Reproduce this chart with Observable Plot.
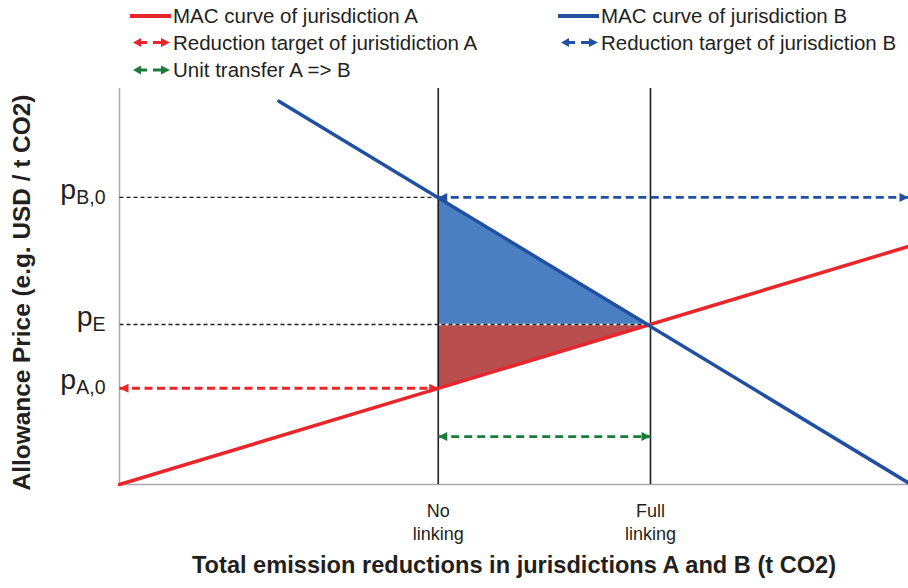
<!DOCTYPE html>
<html><head><meta charset="utf-8">
<script src="https://cdn.jsdelivr.net/npm/d3@7"></script>
<script src="https://cdn.jsdelivr.net/npm/@observablehq/plot@0.6"></script>
<style>
body{margin:0;background:#fff;}
#chart{width:908px;height:588px;position:relative;}
svg{display:block}
</style></head><body><div id="chart"></div>
<script>
// ---- data ----
const xDomain = [0, 100];
const yDomain = [0, 100];
const xTicks = [40.4, 67.3];
const xTickLabels = ["No\nlinking", "Full\nlinking"];
const yTicks = [24.3, 40.4, 72.5];
const yTickBase = ["p", "p", "p"];
const yTickSub = ["A,0", "E", "B,0"];
const macA = [[0, 0], [100, 60.1]];
const macB = [[20.2, 96.8], [100, 0.4]];
const blueSurplus = [[40.4, 40.4, 72.5], [67.3, 40.4, 40.4]];
const redSurplus = [[40.4, 24.3, 40.4], [67.3, 40.4, 40.4]];
const guideB0 = [[0, 72.5], [40.4, 72.5]];
const guideE = [[0, 40.4], [67.3, 40.4]];
const targetA = [[0, 24.3], [40.4, 24.3]];
const targetB = [[40.4, 72.5], [100, 72.5]];
const transfer = [[40.4, 12.1], [67.3, 12.1]];
const legendLabels = ["MAC curve of jurisdiction A", "MAC curve of jurisdiction B",
  "Reduction target of juristidiction A", "Reduction target of jurisdiction B",
  "Unit transfer A => B"];
const legendKinds = ["line", "line", "arrow", "arrow", "arrow"];
const xTitle = "Total emission reductions in jurisdictions A and B (t CO2)";
const yTitle = "Allowance Price (e.g. USD / t CO2)";

// ---- styles ----
const FONT = '"Liberation Sans", Arial, Helvetica, sans-serif';
const RED = "#e8262b", BLUE = "#2150a2", GREEN = "#1b7a3a";
const FILL_BLUE = "#4a80c1", FILL_RED = "#b84e4e";
const DARK = "#231f20", GRAY = "#a7a9ac";
const legendColors = [RED, BLUE, RED, BLUE, GREEN];

const chart = document.getElementById("chart");

// ---- legend ----
const leg = d3.create("svg").attr("width", 908).attr("height", 80)
  .style("font-family", FONT);
const colX = [130, 558], rowY = [16, 42.5, 70];
legendLabels.forEach((lab, i) => {
  const cx = colX[i % 2], cy = rowY[Math.floor(i / 2)], c = legendColors[i];
  const g = leg.append("g").attr("transform", `translate(${cx},${cy})`);
  if (legendKinds[i] === "line") {
    g.append("line").attr("x1", 0).attr("x2", 41).attr("stroke", c).attr("stroke-width", 4);
  } else {
    g.append("path").attr("d", "M3,0L11,-4.5L11,4.5Z").attr("fill", c);
    g.append("line").attr("x1", 10).attr("x2", 17).attr("stroke", c).attr("stroke-width", 3);
    g.append("line").attr("x1", 23).attr("x2", 32).attr("stroke", c).attr("stroke-width", 3);
    g.append("path").attr("d", "M40,0L31,-4.5L31,4.5Z").attr("fill", c);
  }
  g.append("text").attr("x", 43).attr("y", 7.4).attr("font-size", 20.5).attr("fill", DARK).text(lab);
});
chart.appendChild(leg.node());

// ---- arrow marker ----
function arrowHead(color) {
  const m = d3.create("svg:marker")
    .attr("viewBox", "-10 -6 12 12")
    .attr("markerWidth", 12).attr("markerHeight", 12)
    .attr("markerUnits", "userSpaceOnUse")
    .attr("refX", 0).attr("refY", 0)
    .attr("orient", "auto-start-reverse");
  m.append("path").attr("d", "M-9,-4.5L0,0L-9,4.5Z").attr("fill", color).attr("stroke", "none");
  return m.node();
}

const pt = {x: d => d[0], y: d => d[1]};
const plot = Plot.plot({
  width: 908, height: 508,
  marginTop: 8, marginBottom: 104, marginLeft: 119, marginRight: 0,
  style: {fontFamily: FONT, color: DARK, background: "white", overflow: "visible"},
  x: {domain: xDomain},
  y: {domain: yDomain},
  marks: [
    Plot.areaY(blueSurplus, {x: d => d[0], y1: d => d[1], y2: d => d[2], fill: FILL_BLUE}),
    Plot.areaY(redSurplus, {x: d => d[0], y1: d => d[1], y2: d => d[2], fill: FILL_RED}),
    Plot.ruleX([xDomain[0]], {stroke: GRAY, strokeWidth: 1.5}),
    Plot.ruleY([yDomain[0]], {stroke: GRAY, strokeWidth: 1.5}),
    Plot.line(guideE, {...pt, stroke: "white", strokeWidth: 1.5}),
    Plot.line(guideB0, {...pt, stroke: DARK, strokeWidth: 1.3, strokeDasharray: "4,3", strokeLinecap: "butt"}),
    Plot.line(guideE, {...pt, stroke: DARK, strokeWidth: 1.3, strokeDasharray: "4,3", strokeLinecap: "butt"}),
    Plot.ruleX(xTicks, {stroke: DARK, strokeWidth: 1.6}),
    Plot.line(macA, {...pt, stroke: RED, strokeWidth: 3.5}),
    Plot.line(macB, {...pt, stroke: BLUE, strokeWidth: 3.5}),
    Plot.line(targetA, {...pt, stroke: RED, strokeWidth: 2.8, strokeDasharray: "8,4.5", strokeLinecap: "butt", marker: arrowHead}),
    Plot.line(targetB, {...pt, stroke: BLUE, strokeWidth: 2.8, strokeDasharray: "8,4.5", strokeLinecap: "butt", marker: arrowHead}),
    Plot.line(transfer, {...pt, stroke: GREEN, strokeWidth: 2.8, strokeDasharray: "8,5", strokeLinecap: "butt", marker: arrowHead}),
    Plot.axisX({ticks: xTicks, tickFormat: (d, i) => xTickLabels[i], tickSize: 0, tickPadding: 17,
      fontSize: 18, lineHeight: 1.24, label: null, fill: DARK}),
    Plot.axisY({ticks: yTicks, tickFormat: (d, i) => yTickBase[i] + yTickSub[i], tickSize: 0, tickPadding: 14,
      fontSize: 28.5, dy: -8, label: null, fill: DARK}),
    Plot.text([xTitle], {text: d => d, frameAnchor: "bottom", textAnchor: "middle", dy: 88.5, fontSize: 23.6, fontWeight: "bold", fill: DARK}),
    Plot.text([yTitle], {text: d => d, frameAnchor: "left", textAnchor: "middle", dx: -97, dy: 6, rotate: -90, fontSize: 24.4, fontWeight: "bold", fill: DARK})
  ]
});

// subscripts on y tick labels
plot.querySelectorAll('g[aria-label="y-axis tick label"] text').forEach(t => {
  const s = t.textContent;
  const i = yTickBase.findIndex((b, k) => b + yTickSub[k] === s);
  if (i < 0) return;
  t.textContent = yTickBase[i];
  const ts = document.createElementNS("http://www.w3.org/2000/svg", "tspan");
  ts.setAttribute("font-size", 19.5);
  ts.setAttribute("dy", 5);
  ts.textContent = yTickSub[i];
  t.appendChild(ts);
});
chart.appendChild(plot);
</script></body></html>
